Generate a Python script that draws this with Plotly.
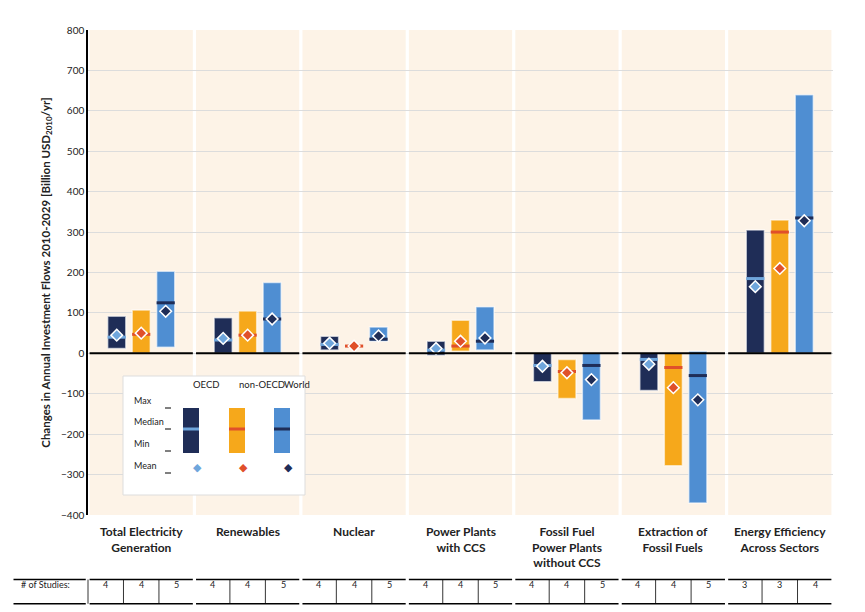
import plotly.graph_objects as go

categories = ["Total Electricity<br>Generation", "Renewables", "Nuclear", "Power Plants<br>with CCS",
              "Fossil Fuel<br>Power Plants<br>without CCS", "Extraction of<br>Fossil Fuels", "Energy Efficiency<br>Across Sectors"]
groups = ["OECD", "non-OECD", "World"]
mins = {"OECD": [12, 0, 8, -5, -70, -92, 0],
        "non-OECD": [0, 0, 18, 5, -112, -278, 0],
        "World": [15, 0, 30, 8, -165, -370, 0]}
maxs = {"OECD": [92, 88, 42, 30, 0, 0, 305],
        "non-OECD": [107, 105, 18, 82, -15, 0, 330],
        "World": [203, 175, 65, 115, 0, 5, 640]}
medians = {"OECD": [40, 33, 22, 8, -30, -15, 185],
           "non-OECD": [47, 45, 18, 18, -45, -35, 300],
           "World": [125, 85, 35, 30, -30, -55, 335]}
means = {"OECD": [45, 37, 25, 12, -32, -27, 165],
         "non-OECD": [50, 45, 18, 30, -48, -85, 210],
         "World": [104, 85, 43, 38, -65, -115, 328]}
studies = {"OECD": [4, 4, 4, 4, 4, 4, 3], "non-OECD": [4, 4, 4, 4, 4, 4, 3], "World": [5, 5, 5, 5, 5, 5, 4]}

bar_col = {"OECD": "#1f2d57", "non-OECD": "#f6a81b", "World": "#4f8ed2"}
med_col = {"OECD": "#6fa6dc", "non-OECD": "#e0502a", "World": "#1f2d57"}
mean_col = {"OECD": "#6fa6dc", "non-OECD": "#e0502a", "World": "#1f2d57"}
offs = {"OECD": 0.27, "non-OECD": 0.5, "World": 0.73}
FONT = "Lato"

fig = go.Figure()
for g in groups:
    xs = [i + offs[g] for i in range(len(categories))]
    heights = [mx - mn for mn, mx in zip(mins[g], maxs[g])]
    fig.add_trace(go.Bar(x=xs, y=heights, base=mins[g], width=0.17, marker_color=bar_col[g],
                         marker_line=dict(color="rgba(255,255,255,0.6)", width=1.5), showlegend=False))
    fig.add_trace(go.Scatter(x=xs, y=medians[g], mode="markers", showlegend=False,
                             marker=dict(symbol="line-ew", size=13, line=dict(width=3, color=med_col[g]))))
    fig.add_trace(go.Scatter(x=xs, y=means[g], mode="markers", showlegend=False,
                             marker=dict(symbol="diamond", size=9, color=mean_col[g], line=dict(width=1.5, color="white"))))

shapes = []
annots = []
for i in range(len(categories)):
    shapes.append(dict(type="rect", xref="x", yref="paper", x0=i + 0.015, x1=i + 0.985, y0=0, y1=1,
                       fillcolor="#fdf3e7", line_width=0, layer="below"))
    annots.append(dict(x=i + 0.5, xref="x", y=-0.015, yref="paper", yanchor="top", text="<b>" + categories[i] + "</b>",
                       showarrow=False, font=dict(size=12, family=FONT, color="#222")))
    for yy in (-0.133, -0.183):
        shapes.append(dict(type="line", xref="x", yref="paper", x0=i + 0.015, x1=i + 0.985, y0=yy, y1=yy,
                           line=dict(color="black", width=1.5)))
    for k in (1, 2):
        shapes.append(dict(type="line", xref="x", yref="paper", x0=i + k / 3, x1=i + k / 3, y0=-0.133, y1=-0.183,
                           line=dict(color="black", width=0.8)))
    for k, g in enumerate(groups):
        annots.append(dict(x=i + (k + 0.5) / 3, xref="x", y=-0.158, yref="paper", text=str(studies[g][i]),
                           showarrow=False, font=dict(size=9, family=FONT, color="#222")))
    shapes.append(dict(type="line", xref="x", yref="y", x0=i + 0.015, x1=i + 0.985, y0=0, y1=0,
                       line=dict(color="black", width=2), layer="above"))
shapes.append(dict(type="line", xref="paper", yref="paper", x0=-0.1, x1=-0.003, y0=-0.133, y1=-0.133, line=dict(color="black", width=1.5)))
shapes.append(dict(type="line", xref="paper", yref="paper", x0=-0.1, x1=-0.003, y0=-0.183, y1=-0.183, line=dict(color="black", width=1.5)))
shapes.append(dict(type="line", xref="paper", yref="paper", x0=0, x1=0, y0=-0.133, y1=-0.183, line=dict(color="black", width=0.8)))
annots.append(dict(x=-0.093, xref="paper", y=-0.158, yref="paper", xanchor="left", text="# of Studies:",
                   showarrow=False, font=dict(size=9, family=FONT, color="#222")))

def px(x): return (x - 80) / 745
def py(y): return (507 - y) / 485
shapes.append(dict(type="rect", xref="paper", yref="paper", x0=px(115), x1=px(297), y0=py(487), y1=py(368),
                   fillcolor="white", line=dict(color="#dddddd", width=1)))
for g, cx, lab in (("OECD", 183, "OECD"), ("non-OECD", 229, "non-OECD"), ("World", 274, "World")):
    shapes.append(dict(type="rect", xref="paper", yref="paper", x0=px(cx - 8), x1=px(cx + 8), y0=py(445), y1=py(400),
                       fillcolor=bar_col[g], line_width=0))
    shapes.append(dict(type="line", xref="paper", yref="paper", x0=px(cx - 8), x1=px(cx + 8), y0=py(421), y1=py(421),
                       line=dict(color=med_col[g], width=3)))
    annots.append(dict(x=px(cx), xref="paper", y=py(384), yref="paper", text=lab, showarrow=False,
                       font=dict(size=9.5, family=FONT, color="#222")))
    annots.append(dict(x=px(cx), xref="paper", y=py(467), yref="paper", text="◆", showarrow=False,
                       font=dict(size=11, color=mean_col[g])))
for lab, yy in (("Max", 400), ("Median", 421), ("Min", 443), ("Mean", 465)):
    annots.append(dict(x=px(124), xref="paper", y=py(yy), yref="paper", xanchor="left", text=lab, showarrow=False,
                       font=dict(size=9, family=FONT, color="#222")))
    shapes.append(dict(type="line", xref="paper", yref="paper", x0=px(157), x1=px(163), y0=py(yy), y1=py(yy),
                       line=dict(color="black", width=1)))

fig.update_layout(
    width=865, height=612, margin=dict(l=80, r=40, t=22, b=105),
    plot_bgcolor="white", paper_bgcolor="white", barmode="overlay",
    font=dict(family=FONT, color="#222"),
    xaxis=dict(range=[0, 7], showticklabels=False, showgrid=False, zeroline=False),
    yaxis=dict(range=[-400, 800], dtick=100, showgrid=True, gridcolor="#dcdcdc", zeroline=False,
               showline=True, linecolor="black", linewidth=1.5, ticks="", tickfont=dict(size=10),
               title=dict(text="<b>Changes in Annual Investment Flows 2010-2029 [Billion USD<sub>2010</sub>/yr]</b>",
                          font=dict(size=11.5, family=FONT), standoff=8)),
    shapes=shapes, annotations=annots,
)
fig.write_html("out.html")
